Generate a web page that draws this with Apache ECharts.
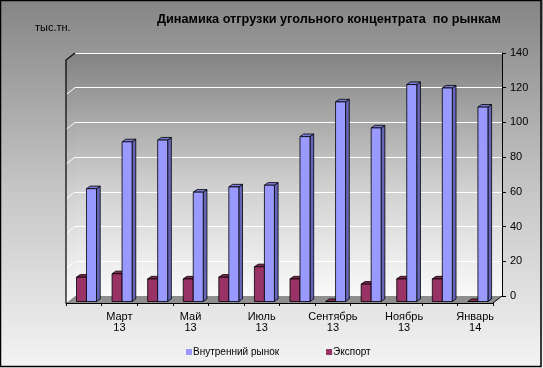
<!DOCTYPE html>
<html><head><meta charset="utf-8">
<script src="https://cdn.jsdelivr.net/npm/echarts@6/dist/echarts.min.js"></script>
<style>html,body{margin:0;padding:0;background:#fff;}#c{width:543px;height:368px;}</style>
</head><body><div id="c"></div>
<script>
// ---- data ----
const categories = ['Февраль 13','Март 13','Апрель 13','Май 13','Июнь 13','Июль 13','Август 13','Сентябрь 13','Октябрь 13','Ноябрь 13','Декабрь 13','Январь 14'];
const domestic = [65, 92, 93, 63, 66, 67, 95, 115, 100, 125, 123, 112];
const exportVals = [14, 16, 13, 13, 14, 20, 13, 0, 10, 13, 13, 0];
const yTicks = [0, 20, 40, 60, 80, 100, 120, 140];
const seriesNames = ['Внутренний рынок', 'Экспорт'];
const titleText = 'Динамика отгрузки угольного концентрата  по рынкам';
const unitText = 'тыс.тн.';

// ---- layout / style ----
const FONT = "'Liberation Sans', Arial, sans-serif";
const B = {l: 75, r: 502, t: 53, b: 296};   // back wall
const DX = -9, DY = 7;                       // floor depth (back -> front)
const FDX = -6.3, FDY = 5.5;                 // bar front-face offset from wall plane
const BDX = 3.7, BDY = -2.6;                 // bar depth
const blueC = {front: '#9999ff', side: '#6666b8', top: '#7c7cd6'};
const redC = {front: '#993366', side: '#6b2447', top: '#82294f'};

function barRenderer(side, colors) {
  return function (params, api) {
    const c = api.coord([api.value(0), api.value(1)]);
    const z = api.coord([api.value(0), 0]);
    const band = api.size([1, 0])[0];
    const w = band * 0.281;
    const cx = c[0] + FDX;
    const x0 = side < 0 ? cx - w : cx;
    const x1 = x0 + w;
    const yt = c[1] + FDY, yb = z[1] + FDY;
    const st = {stroke: '#000', lineWidth: 0.8};
    return {type: 'group', children: [
      {type: 'polygon', shape: {points: [[x1, yt], [x1 + BDX, yt + BDY], [x1 + BDX, yb + BDY], [x1, yb]]}, style: Object.assign({fill: colors.side}, st)},
      {type: 'polygon', shape: {points: [[x0, yt], [x0 + BDX, yt + BDY], [x1 + BDX, yt + BDY], [x1, yt]]}, style: Object.assign({fill: colors.top}, st)},
      {type: 'rect', shape: {x: x0, y: yt, width: w, height: yb - yt}, style: Object.assign({fill: colors.front}, st)}
    ]};
  };
}

const chart = echarts.init(document.getElementById('c'), null, {renderer: 'canvas'});
const option = {
  animation: false,
  backgroundColor: {type: 'linear', x: 0, y: 0, x2: 0, y2: 1, colorStops: [
    {offset: 0, color: '#858585'}, {offset: 0.5, color: '#c4c4c4'}, {offset: 1, color: '#f4f4f4'}]},
  textStyle: {fontFamily: FONT},
  title: [
    {text: titleText, left: 157, top: 13, padding: 0,
     textStyle: {fontSize: 12.7, fontWeight: 'bold', color: '#000', fontFamily: FONT}},
    {text: unitText, left: 35, top: 22, padding: 0,
     textStyle: {fontSize: 11, fontWeight: 'normal', color: '#000', fontFamily: FONT}}
  ],
  legend: {
    data: seriesNames, left: 186, top: 347, itemWidth: 6, itemHeight: 6, itemGap: 47,
    icon: 'rect', padding: 0,
    textStyle: {fontSize: 10, color: '#000', fontFamily: FONT, padding: [0, 0, 0, -4]}
  },
  grid: [
    {left: B.l, right: 543 - B.r, top: B.t, bottom: 368 - B.b, show: true, borderWidth: 0,
     backgroundColor: {type: 'linear', x: 0, y: 0, x2: 0, y2: 1, colorStops: [
       {offset: 0, color: '#828282'}, {offset: 0.55, color: '#d0d0d0'}, {offset: 1, color: '#fafafa'}]}},
    {left: B.l + DX, right: 543 - B.r - DX, top: B.t + DY, bottom: 368 - B.b - DY, show: false}
  ],
  xAxis: [
    {type: 'category', data: categories, gridIndex: 0, boundaryGap: true,
     axisLine: {show: false}, axisTick: {show: false}, axisLabel: {show: false}, splitLine: {show: false}},
    {type: 'category', data: categories, gridIndex: 1, boundaryGap: true, z: 5,
     axisLine: {show: true, lineStyle: {color: '#000', width: 1}},
     axisTick: {show: true, interval: 0, length: 3, lineStyle: {color: '#000'}},
     axisLabel: {interval: (i) => i % 2 === 1, margin: 8, fontSize: 11, color: '#000', fontFamily: FONT,
       lineHeight: 11, formatter: (v) => v.replace(' ', '\n')},
     splitLine: {show: false}}
  ],
  yAxis: [
    {type: 'value', gridIndex: 0, position: 'right', min: 0, max: 140, interval: 20,
     axisLine: {show: true, lineStyle: {color: '#000'}},
     axisTick: {show: true, length: 4, lineStyle: {color: '#000'}},
     axisLabel: {margin: 8, fontSize: 11, color: '#000', fontFamily: FONT},
     splitLine: {show: true, lineStyle: {color: '#ffffff', width: 1}}},
    {type: 'value', gridIndex: 1, min: 0, max: 140, show: false}
  ],
  series: [
    {name: seriesNames[1], type: 'custom', xAxisIndex: 0, yAxisIndex: 0, z: 3,
     itemStyle: {color: redC.front}, renderItem: barRenderer(-1, redC),
     encode: {x: 0, y: 1}, data: exportVals.map((v, i) => [i, v])},
    {name: seriesNames[0], type: 'custom', xAxisIndex: 0, yAxisIndex: 0, z: 4,
     itemStyle: {color: blueC.front}, renderItem: barRenderer(1, blueC),
     encode: {x: 0, y: 1}, data: domestic.map((v, i) => [i, v])}
  ]
};
chart.setOption(option);

// ---- walls, floor, left-wall gridlines, frame ----
const wallGrad = {type: 'linear', x: 0, y: 0, x2: 0, y2: 1, colorStops: [
  {offset: 0, color: '#828282'}, {offset: 0.55, color: '#d0d0d0'}, {offset: 1, color: '#fafafa'}]};
const g = [];
g.push({type: 'polygon', z: 1, shape: {points: [[B.l, B.b], [B.r, B.b], [B.r + DX, B.b + DY], [B.l + DX, B.b + DY]]},
        style: {fill: '#8e8e8e'}});
g.push({type: 'polygon', z: 1, shape: {points: [[B.l, B.t], [B.l, B.b], [B.l + DX, B.b + DY], [B.l + DX, B.t + DY]]},
        style: {fill: wallGrad}});
yTicks.forEach(function (v) {
  if (v === 0) return;
  const y = chart.convertToPixel({yAxisIndex: 0}, v);
  g.push({type: 'line', z: 1, shape: {x1: B.l, y1: y, x2: B.l + DX, y2: y + DY}, style: {stroke: '#fff', lineWidth: 1}});
});
g.push({type: 'polyline', z: 6, shape: {points: [[B.l, B.t], [B.l + DX, B.t + DY], [B.l + DX, B.b + DY]]},
        style: {stroke: '#000', lineWidth: 1.2, fill: null}});
g.push({type: 'line', z: 6, shape: {x1: B.r, y1: B.b, x2: B.r + DX, y2: B.b + DY}, style: {stroke: '#000', lineWidth: 1}});
g.push({type: 'rect', z: 10, shape: {x: 0.5, y: 0.5, width: 540.5, height: 366}, style: {fill: null, stroke: '#000', lineWidth: 1.5}});
chart.setOption({graphic: g});
</script>
</body></html>
